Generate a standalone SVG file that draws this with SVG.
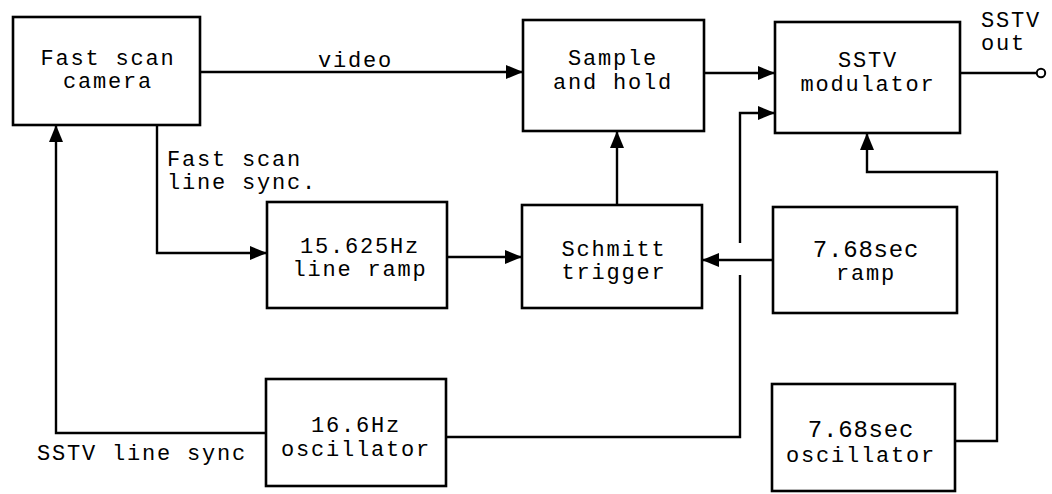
<svg xmlns="http://www.w3.org/2000/svg" width="1052" height="494" viewBox="0 0 1052 494">
<style>
.box{fill:#fff;stroke:#000;stroke-width:2.6}
.ln{fill:none;stroke:#000;stroke-width:2.4}
text{font-family:"Liberation Mono",monospace;font-size:22px;letter-spacing:1.8px;fill:#000}
.c{text-anchor:middle}
.b{font-size:24px;letter-spacing:0.8px}
</style>
<defs>
<marker id="ah" markerUnits="userSpaceOnUse" markerWidth="18" markerHeight="14" viewBox="0 0 18 14" refX="17" refY="7" orient="auto">
<path d="M0,0 L17,7 L0,14 Z" fill="#000"/>
</marker>
</defs>
<rect width="1052" height="494" fill="#fff"/>
<g id="connectors">
<path class="ln" d="M200 72 H523" marker-end="url(#ah)"/>
<path class="ln" d="M704 73 H775" marker-end="url(#ah)"/>
<path class="ln" d="M960 73 H1037"/>
<circle cx="1041" cy="73" r="4.2" fill="#fff" stroke="#000" stroke-width="2"/>
<path class="ln" d="M157 125 V253 H267" marker-end="url(#ah)"/>
<path class="ln" d="M447 257 H522" marker-end="url(#ah)"/>
<path class="ln" d="M617 205 V131" marker-end="url(#ah)"/>
<path class="ln" d="M773 260 H702" marker-end="url(#ah)"/>
<path class="ln" d="M266 433 H56 V125" marker-end="url(#ah)"/>
<path class="ln" d="M446 437 H740 V275"/>
<path class="ln" d="M740 243 V113 H775" marker-end="url(#ah)"/>
<path class="ln" d="M955 441 H997 V172 H867 V133" marker-end="url(#ah)"/>
</g>
<g id="camera">
<rect class="box" x="13" y="17" width="187" height="108"/>
<text class="c" x="108" y="65">Fast scan</text>
<text class="c" x="108" y="88">camera</text>
</g>
<g id="sample-hold">
<rect class="box" x="523" y="20" width="181" height="111"/>
<text class="c" x="613" y="65">Sample</text>
<text class="c" x="613" y="89">and hold</text>
</g>
<g id="modulator">
<rect class="box" x="775" y="22" width="185" height="111"/>
<text class="c" x="868" y="67">SSTV</text>
<text class="c" x="868" y="91">modulator</text>
</g>
<g id="line-ramp">
<rect class="box" x="267" y="202" width="180" height="106"/>
<text class="c" x="360" y="253">15.625Hz</text>
<text class="c" x="360" y="276">line ramp</text>
</g>
<g id="schmitt">
<rect class="box" x="522" y="205" width="180" height="103"/>
<text class="c" x="614" y="256">Schmitt</text>
<text class="c" x="614" y="279">trigger</text>
</g>
<g id="ramp">
<rect class="box" x="773" y="207" width="184" height="106"/>
<text class="c b" x="866" y="257">7.68sec</text>
<text class="c" x="866" y="280">ramp</text>
</g>
<g id="osc166">
<rect class="box" x="266" y="379" width="180" height="107"/>
<text class="c" x="356" y="432">16.6Hz</text>
<text class="c" x="356" y="456">oscillator</text>
</g>
<g id="osc768">
<rect class="box" x="772" y="384" width="183" height="107"/>
<text class="c b" x="861" y="437">7.68sec</text>
<text class="c" x="861" y="462">oscillator</text>
</g>
<g id="labels">
<text x="318" y="67">video</text>
<text x="167" y="166">Fast scan</text>
<text x="167" y="189">line sync.</text>
<text x="37" y="460">SSTV line sync</text>
<text x="981" y="27">SSTV</text>
<text x="981" y="50">out</text>
</g>
</svg>
